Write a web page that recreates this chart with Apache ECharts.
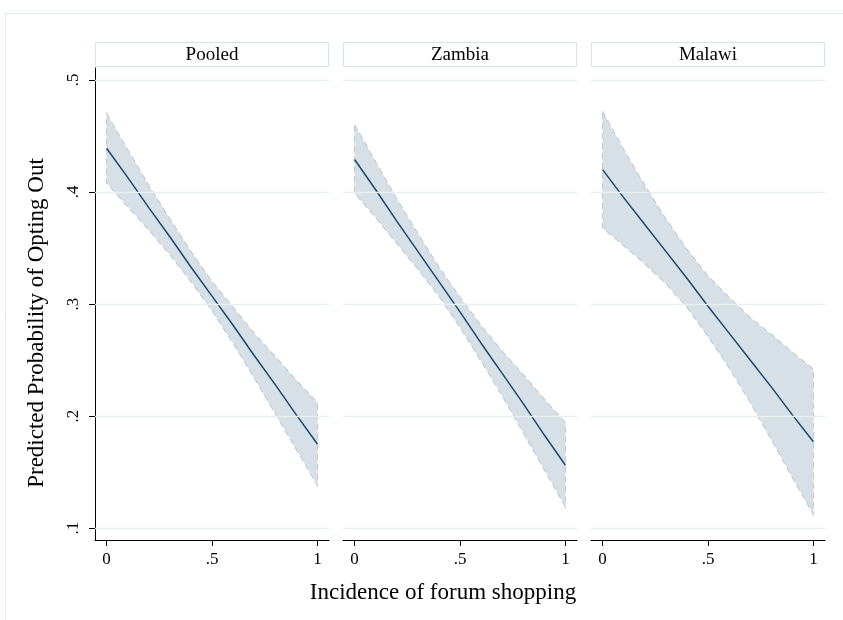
<!DOCTYPE html>
<html>
<head>
<meta charset="utf-8">
<script src="https://cdn.jsdelivr.net/npm/echarts@6/dist/echarts.min.js"></script>
<style>
  html, body { margin: 0; padding: 0; background: #fff; }
  #chart { width: 843px; height: 620px; }
</style>
</head>
<body>
<div id="chart"></div>
<script>
// values
const panels = ['Pooled', 'Zambia', 'Malawi'];
const xValues = [0, 0.1, 0.2, 0.3, 0.4, 0.5, 0.6, 0.7, 0.8, 0.9, 1];
const xTicks = [0, 0.5, 1];
const yTicks = [0.1, 0.2, 0.3, 0.4, 0.5];

const pooledFit = [0.439, 0.413, 0.386, 0.360, 0.333, 0.307, 0.281, 0.254, 0.228, 0.201, 0.175];
const pooledUpper = [0.470, 0.438, 0.406, 0.376, 0.347, 0.320, 0.297, 0.274, 0.253, 0.232, 0.212];
const pooledLower = [0.408, 0.387, 0.366, 0.344, 0.320, 0.294, 0.265, 0.234, 0.202, 0.170, 0.138];

const zambiaFit = [0.429, 0.402, 0.374, 0.347, 0.320, 0.293, 0.265, 0.238, 0.211, 0.183, 0.156];
const zambiaUpper = [0.460, 0.427, 0.394, 0.363, 0.333, 0.306, 0.281, 0.258, 0.237, 0.215, 0.194];
const zambiaLower = [0.399, 0.377, 0.354, 0.331, 0.307, 0.279, 0.249, 0.218, 0.185, 0.152, 0.119];

const malawiFit = [0.420, 0.395, 0.371, 0.347, 0.323, 0.298, 0.274, 0.250, 0.226, 0.201, 0.177];
const malawiUpper = [0.472, 0.438, 0.406, 0.376, 0.349, 0.325, 0.306, 0.288, 0.273, 0.257, 0.242];
const malawiLower = [0.368, 0.352, 0.336, 0.318, 0.297, 0.271, 0.243, 0.212, 0.179, 0.145, 0.112];

const fits = [pooledFit, zambiaFit, malawiFit];
const uppers = [pooledUpper, zambiaUpper, malawiUpper];
const lowers = [pooledLower, zambiaLower, malawiLower];

const font = '"Liberation Serif", "DejaVu Serif", serif';
const navy = '#1a476f';
const gridLefts = [95, 343, 591];
const gridTop = 68;
const gridW = 234;
const gridH = 472;

const tickText = (v) => {
  if (v === 0) return '0';
  if (v === 1) return '1';
  return String(+v.toFixed(1)).replace(/^0/, '');
};

const chart = echarts.init(document.getElementById('chart'), null, { renderer: 'canvas' });

const grid = gridLefts.map((left) => ({ left, top: gridTop, width: gridW, height: gridH }));

const xAxis = gridLefts.map((_, i) => ({
  type: 'value',
  gridIndex: i,
  min: -0.055,
  max: 1.055,
  axisLine: { show: true, onZero: false, lineStyle: { color: '#000', width: 1 } },
  axisTick: { show: true, length: 6, customValues: xTicks, lineStyle: { color: '#000' } },
  axisLabel: {
    customValues: xTicks,
    formatter: tickText,
    margin: 11,
    fontFamily: font,
    fontSize: 17,
    color: '#000',
  },
  splitLine: { show: false },
}));

const yAxis = gridLefts.map((_, i) => ({
  type: 'value',
  gridIndex: i,
  min: 0.0893,
  max: 0.5107,
  axisLine: { show: i === 0, onZero: false, lineStyle: { color: '#000', width: 1 } },
  axisTick: { show: i === 0, length: 6, customValues: yTicks, lineStyle: { color: '#000' } },
  axisLabel: {
    show: i === 0,
    customValues: yTicks,
    formatter: tickText,
    rotate: 90,
    margin: 13,
    fontFamily: font,
    fontSize: 17,
    color: '#000',
  },
  splitLine: { show: false },
}));

const series = [];
panels.forEach((name, i) => {
  // horizontal grid lines
  series.push({
    type: 'line',
    xAxisIndex: i,
    yAxisIndex: i,
    data: [],
    z: 1,
    markLine: {
      silent: true,
      symbol: 'none',
      label: { show: false },
      lineStyle: { color: '#e6eff1', width: 1.3, type: 'solid' },
      data: yTicks.map((v) => ({ yAxis: v })),
    },
  });

  // confidence band
  const up = uppers[i];
  const lo = lowers[i];
  series.push({
    type: 'custom',
    name: name + ' CI',
    xAxisIndex: i,
    yAxisIndex: i,
    z: 2,
    data: xValues.map((x, k) => [x, lo[k], up[k]]),
    renderItem: (params, api) => {
      if (params.dataIndex !== 0) return null;
      const top = xValues.map((x, k) => api.coord([x, up[k]]));
      const bottom = xValues.map((x, k) => api.coord([x, lo[k]])).reverse();
      return {
        type: 'polygon',
        shape: { points: top.concat(bottom) },
        style: {
          fill: 'rgba(26, 71, 111, 0.17)',
          stroke: '#bccbd6',
          lineWidth: 1.1,
          lineDash: [6, 4],
        },
      };
    },
  });

  // fitted line
  series.push({
    type: 'line',
    name,
    xAxisIndex: i,
    yAxisIndex: i,
    z: 3,
    symbol: 'none',
    lineStyle: { color: navy, width: 1.5 },
    data: xValues.map((x, k) => [x, fits[i][k]]),
  });
});

const graphic = [
  {
    type: 'rect',
    shape: { x: 5.5, y: 13.5, width: 850, height: 620 },
    style: { fill: 'none', stroke: '#e1ebee', lineWidth: 1 },
    silent: true,
  },
  {
    type: 'text',
    x: 37,
    y: 323,
    rotation: Math.PI / 2,
    style: {
      text: 'Predicted Probability of Opting Out',
      font: '23px ' + font,
      fill: '#000',
      textAlign: 'center',
      textVerticalAlign: 'middle',
    },
  },
  {
    type: 'text',
    x: 443,
    y: 593,
    style: {
      text: 'Incidence of forum shopping',
      font: '23px ' + font,
      fill: '#000',
      textAlign: 'center',
      textVerticalAlign: 'middle',
    },
  },
];

panels.forEach((name, i) => {
  graphic.push({
    type: 'rect',
    shape: { x: gridLefts[i] + 0.5, y: 42.5, width: gridW - 1, height: 24 },
    style: { fill: '#fff', stroke: '#d4e4e8', lineWidth: 1 },
    silent: true,
  });
  graphic.push({
    type: 'text',
    x: gridLefts[i] + gridW / 2,
    y: 55,
    style: {
      text: name,
      font: '19px ' + font,
      fill: '#000',
      textAlign: 'center',
      textVerticalAlign: 'middle',
    },
  });
});

chart.setOption({
  animation: false,
  backgroundColor: '#fff',
  grid,
  xAxis,
  yAxis,
  series,
  graphic,
});
</script>
</body>
</html>
